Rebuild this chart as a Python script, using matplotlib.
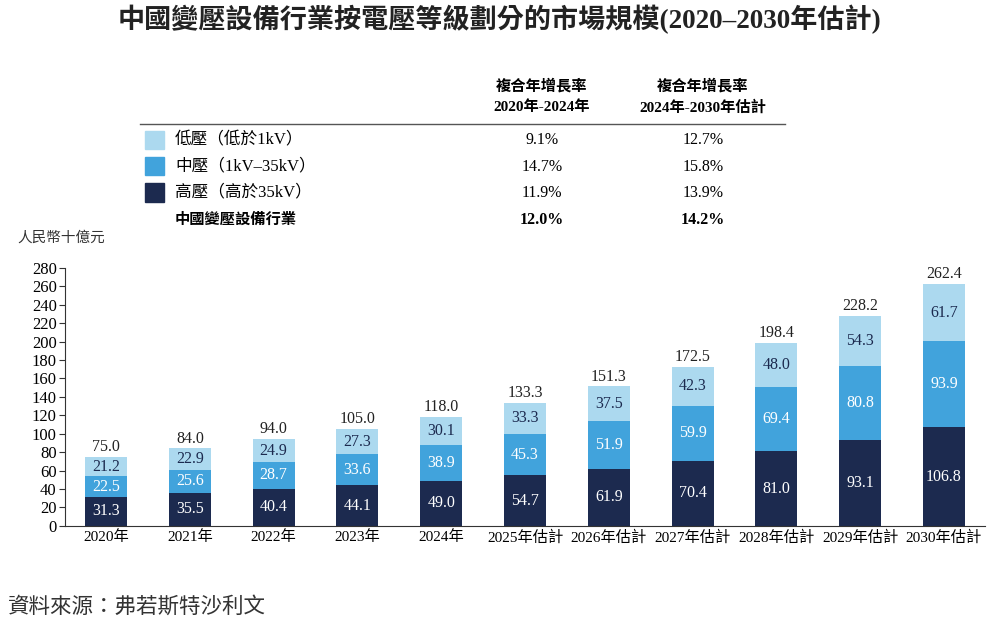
import numpy as np
import matplotlib.pyplot as plt

plt.rcParams['font.family'] = ['Liberation Serif', 'Noto Sans CJK TC']

years = ['2020年', '2021年', '2022年', '2023年', '2024年', '2025年估計', '2026年估計',
         '2027年估計', '2028年估計', '2029年估計', '2030年估計']
high = [31.3, 35.5, 40.4, 44.1, 49.0, 54.7, 61.9, 70.4, 81.0, 93.1, 106.8]
mid = [22.5, 25.6, 28.7, 33.6, 38.9, 45.3, 51.9, 59.9, 69.4, 80.8, 93.9]
low = [21.2, 22.9, 24.9, 27.3, 30.1, 33.3, 37.5, 42.3, 48.0, 54.3, 61.7]
totals = [75.0, 84.0, 94.0, 105.0, 118.0, 133.3, 151.3, 172.5, 198.4, 228.2, 262.4]

legend_names = ['低壓（低於1kV）', '中壓（1kV–35kV）', '高壓（高於35kV）', '中國變壓設備行業']
cagr_1 = ['9.1%', '14.7%', '11.9%', '12.0%']
cagr_2 = ['12.7%', '15.8%', '13.9%', '14.2%']

c_low = '#acd9ef'
c_mid = '#41a3dc'
c_high = '#1c2a4f'

fig = plt.figure(figsize=(10, 6.26), dpi=100)
ax = fig.add_axes([0.065, 0.16, 0.92, 0.412])

x = np.arange(len(years))
w = 0.5
ax.bar(x, high, w, color=c_high)
ax.bar(x, mid, w, bottom=high, color=c_mid)
b2 = np.array(high) + np.array(mid)
ax.bar(x, low, w, bottom=b2, color=c_low)

fs = 11.5
for i in range(len(x)):
    ax.text(x[i], high[i] / 2, f'{high[i]:.1f}', ha='center', va='center', color='white', fontsize=fs)
    ax.text(x[i], high[i] + mid[i] / 2, f'{mid[i]:.1f}', ha='center', va='center', color='white', fontsize=fs)
    ax.text(x[i], b2[i] + low[i] / 2, f'{low[i]:.1f}', ha='center', va='center', color='#1c2a4f', fontsize=fs)
    ax.text(x[i], totals[i] + 2, f'{totals[i]:.1f}', ha='center', va='bottom', color='#222222', fontsize=fs)

ax.set_xlim(-0.49, 10.49)
ax.set_ylim(0, 280)
ax.set_yticks(np.arange(0, 281, 20))
ax.set_xticks(x)
ax.set_xticklabels(years)
ax.tick_params(axis='y', labelsize=12, length=4, pad=2, color='#333333')
ax.tick_params(axis='x', labelsize=11, length=0, pad=3)
ax.spines['top'].set_visible(False)
ax.spines['right'].set_visible(False)
ax.spines['left'].set_color('#333333')
ax.spines['bottom'].set_color('#333333')

fig.text(0.5, 0.969, '中國變壓設備行業按電壓等級劃分的市場規模(2020–2030年估計)', ha='center', va='center',
         fontsize=19.5, fontweight='bold', color='#222222')
fig.text(0.017, 0.62, '人民幣十億元', ha='left', va='center', fontsize=10.5, color='#333333')
fig.text(0.008, 0.03, '資料來源：弗若斯特沙利文', ha='left', va='center', fontsize=15.5, color='#333333')

# legend table
col1 = 0.542
col2 = 0.703
fig.text(col1, 0.862, '複合年增長率', ha='center', va='center', fontsize=11, fontweight='bold')
fig.text(col1, 0.829, '2020年-2024年', ha='center', va='center', fontsize=11, fontweight='bold')
fig.text(col2, 0.862, '複合年增長率', ha='center', va='center', fontsize=11, fontweight='bold')
fig.text(col2, 0.829, '2024年-2030年估計', ha='center', va='center', fontsize=11, fontweight='bold')
fig.add_artist(plt.Line2D([0.14, 0.785], [0.802, 0.802], color='#555555', lw=1))

row_y = [0.776, 0.734, 0.692, 0.649]
colors = [c_low, c_mid, c_high]
for j in range(4):
    wt = 'bold' if j == 3 else 'normal'
    if j < 3:
        fig.add_artist(plt.Rectangle((0.145, row_y[j] - 0.014), 0.019, 0.029, color=colors[j]))
    fig.text(0.175, row_y[j], legend_names[j], ha='left', va='center', fontsize=12 if j < 3 else 11, fontweight=wt)
    fig.text(col1, row_y[j], cagr_1[j], ha='center', va='center', fontsize=11.5, fontweight=wt)
    fig.text(col2, row_y[j], cagr_2[j], ha='center', va='center', fontsize=11.5, fontweight=wt)

fig.savefig('out.png', dpi=100)
